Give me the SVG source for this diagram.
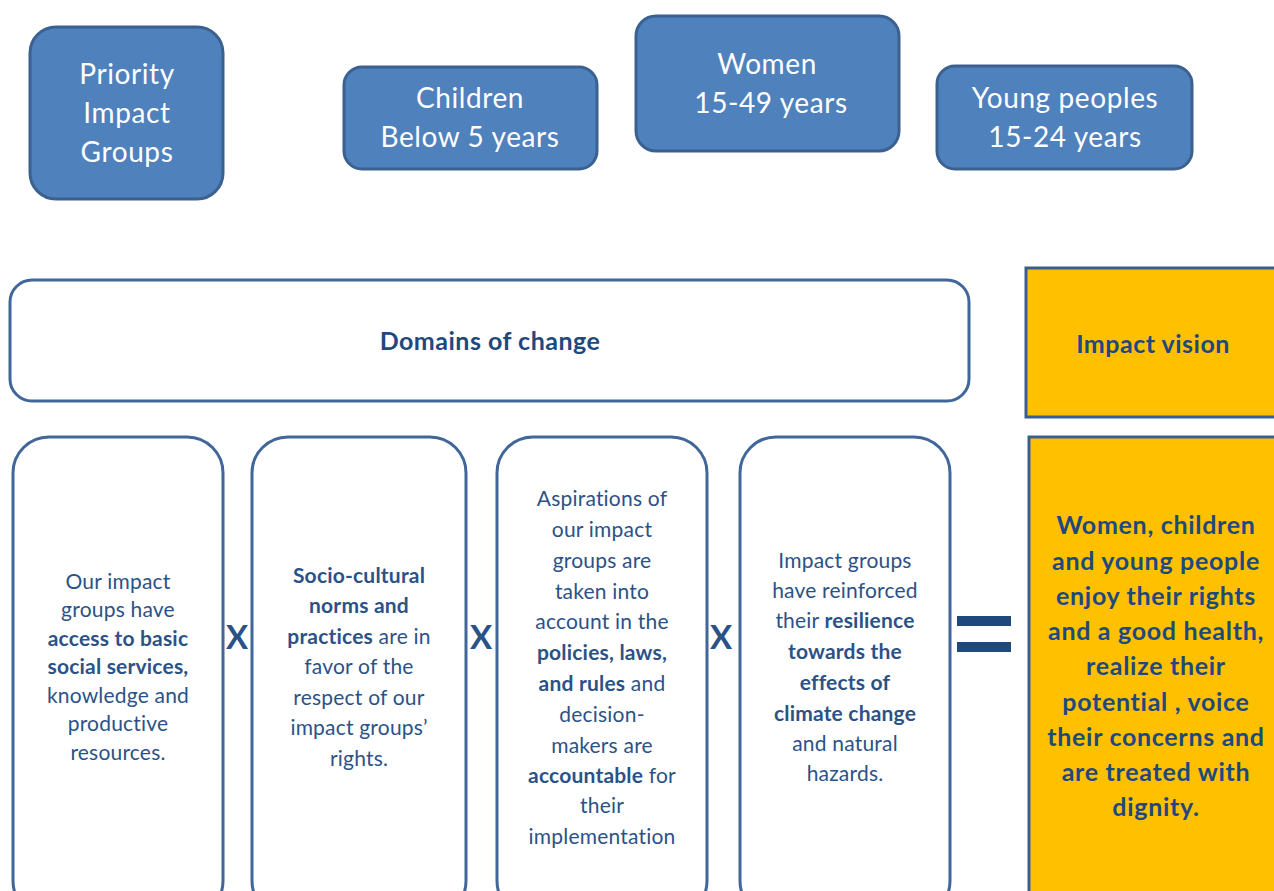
<svg xmlns="http://www.w3.org/2000/svg" width="1274" height="891" viewBox="0 0 1274 891">
<style>
.grp{fill:#4F81BD;stroke:#3B6190;stroke-width:3}
.gt{font-family:Lato,"Open Sans","Liberation Sans",sans-serif;font-size:28px;letter-spacing:0.6px;fill:#fff;text-anchor:middle}
.dom{fill:#fff;stroke:#41679A;stroke-width:3}
.vis{fill:#FFC000;stroke:#3A5F8F;stroke-width:3}
.hd{font-family:Lato,"Open Sans","Liberation Sans",sans-serif;font-size:25px;letter-spacing:0.5px;font-weight:bold;fill:#1F497D;text-anchor:middle}
.bt{font-family:Lato,"Open Sans","Liberation Sans",sans-serif;font-size:21px;letter-spacing:0.2px;fill:#2B5287;text-anchor:middle}
.vt{font-family:Lato,"Open Sans","Liberation Sans",sans-serif;font-size:25px;letter-spacing:0.7px;font-weight:bold;fill:#1F497D;text-anchor:middle}
.op{font-family:Lato,"Open Sans","Liberation Sans",sans-serif;font-size:33px;font-weight:bold;fill:#2B5287;text-anchor:middle}
.b{font-weight:bold}
</style>
<rect width="1274" height="891" fill="#fff"/>
<g id="priority">
<rect class="grp" x="30" y="27" width="193" height="172" rx="26"/>
<text class="gt" x="127" y="84">Priority</text>
<text class="gt" x="127" y="123">Impact</text>
<text class="gt" x="127" y="162">Groups</text>
</g>
<g id="children">
<rect class="grp" x="344" y="67" width="253" height="102" rx="18"/>
<text class="gt" x="470" y="108">Children</text>
<text class="gt" x="470" y="147">Below 5 years</text>
</g>
<g id="women">
<rect class="grp" x="636" y="16" width="263" height="135" rx="20"/>
<text class="gt" x="767" y="74">Women</text>
<text class="gt" x="771" y="113">15-49 years</text>
</g>
<g id="young">
<rect class="grp" x="937" y="66" width="255" height="103" rx="18"/>
<text class="gt" x="1065" y="108">Young peoples</text>
<text class="gt" x="1065" y="147">15-24 years</text>
</g>
<g id="domains">
<rect class="dom" x="10" y="280" width="959" height="121" rx="22"/>
<text class="hd" x="490" y="350">Domains of change</text>
</g>
<g id="impact-vision">
<rect class="vis" x="1026" y="268" width="256" height="149"/>
<text class="hd" x="1153" y="353">Impact vision</text>
</g>
<g id="domain1">
<rect class="dom" x="13" y="437" width="210" height="480" rx="36"/>
<text class="bt" x="118" y="589">Our impact</text>
<text class="bt" x="118" y="617">groups have</text>
<text class="bt b" x="118" y="646">access to basic</text>
<text class="bt b" x="118" y="674">social services,</text>
<text class="bt" x="118" y="703">knowledge and</text>
<text class="bt" x="118" y="731">productive</text>
<text class="bt" x="118" y="760">resources.</text>
</g>
<g id="domain2">
<rect class="dom" x="252" y="437" width="214" height="480" rx="36"/>
<text class="bt b" x="359" y="583">Socio-cultural</text>
<text class="bt b" x="359" y="613">norms and</text>
<text class="bt" x="359" y="644"><tspan class="b">practices</tspan> are in</text>
<text class="bt" x="359" y="674">favor of the</text>
<text class="bt" x="359" y="705">respect of our</text>
<text class="bt" x="359" y="735">impact groups’</text>
<text class="bt" x="359" y="766">rights.</text>
</g>
<g id="domain3">
<rect class="dom" x="497" y="437" width="210" height="480" rx="36"/>
<text class="bt" x="602" y="506">Aspirations of</text>
<text class="bt" x="602" y="537">our impact</text>
<text class="bt" x="602" y="568">groups are</text>
<text class="bt" x="602" y="599">taken into</text>
<text class="bt" x="602" y="629">account in the</text>
<text class="bt b" x="602" y="660">policies, laws,</text>
<text class="bt" x="602" y="691"><tspan class="b">and rules</tspan> and</text>
<text class="bt" x="602" y="722">decision-</text>
<text class="bt" x="602" y="753">makers are</text>
<text class="bt" x="602" y="783"><tspan class="b">accountable</tspan> for</text>
<text class="bt" x="602" y="813">their</text>
<text class="bt" x="602" y="844">implementation</text>
</g>
<g id="domain4">
<rect class="dom" x="740" y="437" width="210" height="480" rx="36"/>
<text class="bt" x="845" y="568">Impact groups</text>
<text class="bt" x="845" y="598">have reinforced</text>
<text class="bt" x="845" y="628">their <tspan class="b">resilience</tspan></text>
<text class="bt b" x="845" y="659">towards the</text>
<text class="bt b" x="845" y="690">effects of</text>
<text class="bt b" x="845" y="721">climate change</text>
<text class="bt" x="845" y="751">and natural</text>
<text class="bt" x="845" y="781">hazards.</text>
</g>
<g id="vision">
<rect class="vis" x="1029" y="437" width="253" height="480"/>
<text class="vt" x="1156" y="534">Women, children</text>
<text class="vt" x="1156" y="570">and young people</text>
<text class="vt" x="1156" y="605">enjoy their rights</text>
<text class="vt" x="1156" y="640">and a good health,</text>
<text class="vt" x="1156" y="675">realize their</text>
<text class="vt" x="1156" y="711">potential , voice</text>
<text class="vt" x="1156" y="746">their concerns and</text>
<text class="vt" x="1156" y="781">are treated with</text>
<text class="vt" x="1156" y="816">dignity.</text>
</g>
<g id="connectors">
<text class="op" x="237" y="649">X</text>
<text class="op" x="481" y="649">X</text>
<text class="op" x="721" y="649">X</text>
<rect x="957" y="616" width="54" height="10" fill="#1F497D"/>
<rect x="957" y="642" width="54" height="10" fill="#1F497D"/>
</g>
</svg>
